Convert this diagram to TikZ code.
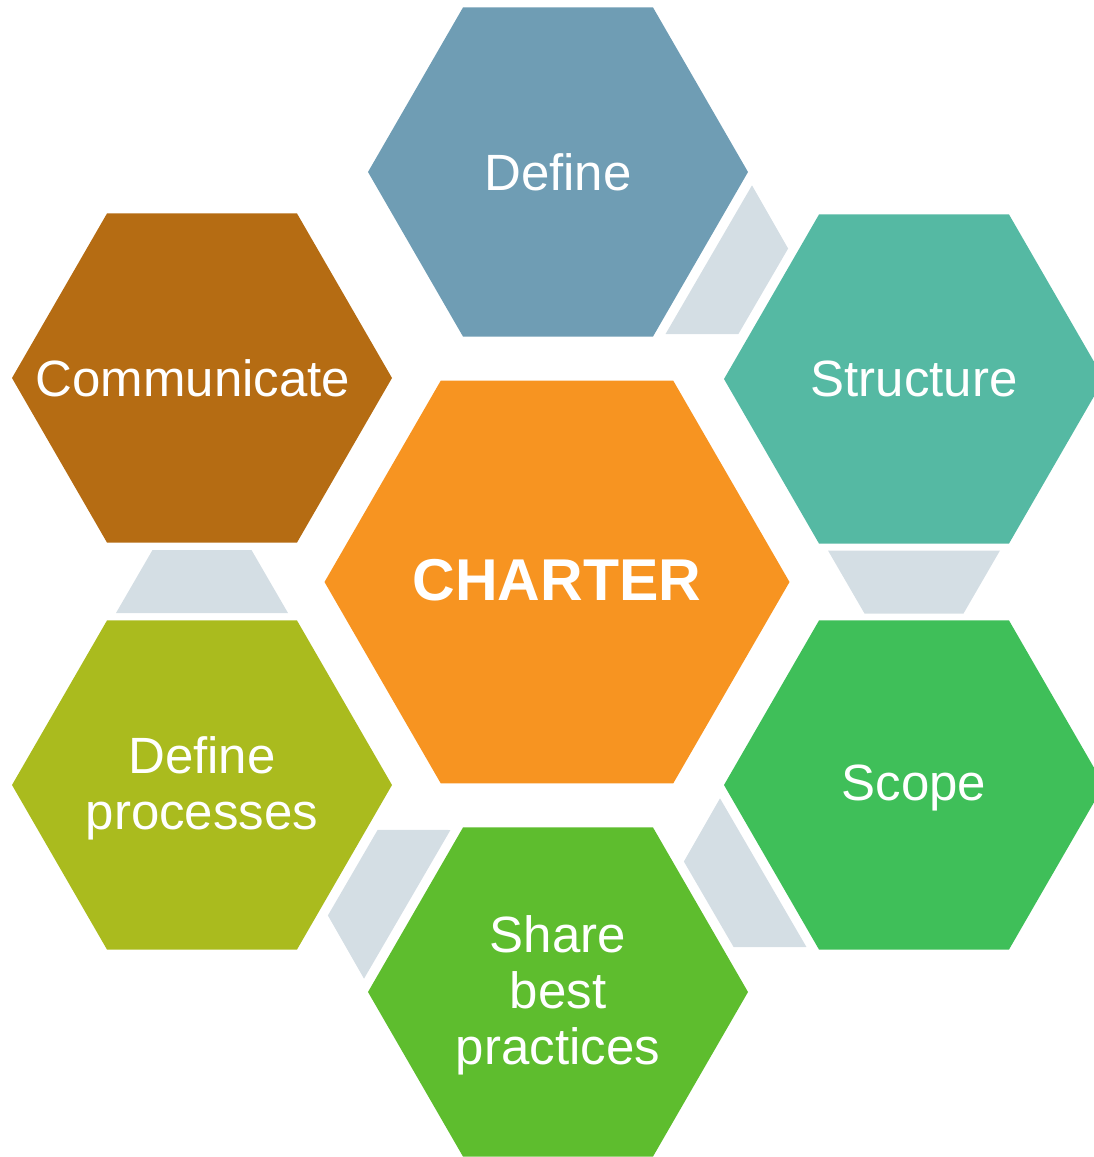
\documentclass[tikz,border=0pt]{standalone}
\usepackage{fontspec}
\setmainfont{Liberation Sans}
\usepackage{xcolor}
\usetikzlibrary{shapes.geometric,calc}
\definecolor{cDefine}{HTML}{6F9DB4}
\definecolor{cStructure}{HTML}{55B9A3}
\definecolor{cScope}{HTML}{3FBF59}
\definecolor{cShare}{HTML}{5EBD2E}
\definecolor{cProcess}{HTML}{AABB1E}
\definecolor{cComm}{HTML}{B56C13}
\definecolor{cCharter}{HTML}{F79421}
\definecolor{cLink}{HTML}{D4DEE4}

\begin{document}
\begin{tikzpicture}[x=1pt,y=-1pt]
%% CONFIG
% Size of the hexagons (circumcircle diameter)
\def\sizeHex{380pt}
\def\sizeCore{465pt}
% Size of the link trapezoids
\def\linkL{172pt}
\def\linkS{99pt}
\def\linkH{63pt}

\def\fontS{\fontsize{51}{56}\selectfont}
\def\fontC{\fontsize{59}{64}\selectfont\bfseries}

\tikzset{
    hex/.style={regular polygon,regular polygon sides=6,minimum size=\sizeHex,
        inner sep=0pt,outer sep=0pt},
    core/.style={hex,minimum size=\sizeCore},
    hextext/.style={text=white,align=center,inner sep=0pt,font=\fontS},
    coretext/.style={hextext,font=\fontC},
    link/.style={fill=cLink}
}

%% Macro for a link between two hexagons
% 1: style
% 2: from hexagon
% 3: to hexagon
\newcommand{\hexlink}[3][]{
    \coordinate (#2-#3/m) at ($(#2.center)!0.5!(#3.center)$);
    \coordinate (#2-#3/a) at ($(#2-#3/m)!-\linkH/2!(#3.center)$);
    \coordinate (#2-#3/b) at ($(#2-#3/m)!\linkH/2!(#3.center)$);
    \fill [#1] ($(#2-#3/a)!\linkL/2!90:(#3.center)$)%
    -- ($(#2-#3/a)!\linkL/2!-90:(#3.center)$)%
    -- ($(#2-#3/b)!\linkS/2!-90:(#3.center)$)%
    -- ($(#2-#3/b)!\linkS/2!90:(#3.center)$) -- cycle;
}

\useasboundingbox (0,0) rectangle (1094,1157);

% Draw the central hexagon
\node [core,fill=cCharter] (charter) at (557,582) {};

% Draw the outer hexagons
\node [hex,fill=cDefine] (define) at (558,172) {};
\node [hex,fill=cStructure] (structure) at (914,379) {};
\node [hex,fill=cScope] (scope) at (914,785) {};
\node [hex,fill=cShare] (share) at (558,992) {};
\node [hex,fill=cProcess] (process) at (202,785) {};
\node [hex,fill=cComm] (comm) at (202,378) {};

% Draw the texts
\node [coretext] (charter/text) at ($(charter)+(0,-2)$) {CHARTER};
\node [hextext] (define/text) at (define) {Define};
\node [hextext] (structure/text) at (structure) {Structure};
\node [hextext] (scope/text) at ($(scope)+(0,3)$) {Scope};
\node [hextext] (share/text) at ($(share)+(0,3)$) {Share\\best\\practices};
\node [hextext] (process/text) at ($(process)+(0,3)$) {Define\\processes};
\node [hextext] (comm/text) at ($(comm)+(-9,0)$) {Communicate};

% Draw the links between neighbours
\hexlink[link]{define}{structure}
\hexlink[link]{structure}{scope}
\hexlink[link]{scope}{share}
\hexlink[link]{share}{process}
\hexlink[link]{process}{comm}

\end{tikzpicture}
\end{document}
